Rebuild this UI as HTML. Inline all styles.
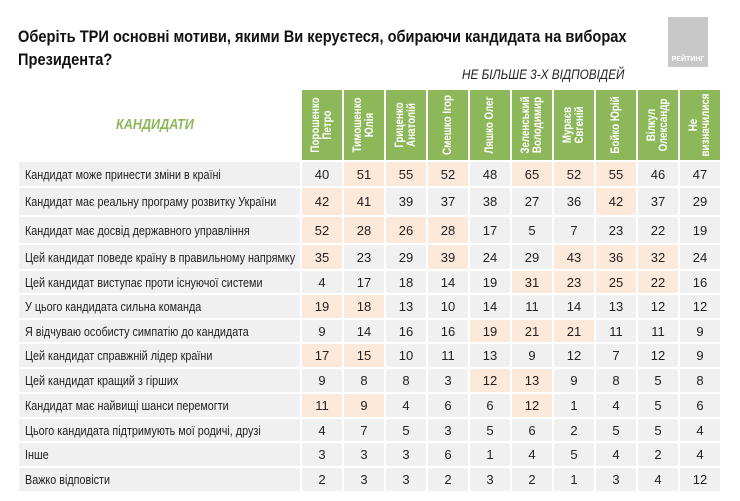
<!DOCTYPE html>
<html><head><meta charset="utf-8"><style>
body{margin:0;width:740px;height:501px;background:#fff;position:relative;overflow:hidden;font-family:"Liberation Sans",sans-serif;color:#222}
.title{position:absolute;left:18px;top:25px;font-size:17px;font-weight:bold;line-height:23px;color:#111;white-space:nowrap;transform:scaleX(0.86);transform-origin:0 0}
.logo{position:absolute;left:668px;top:17px;width:40px;height:50px;background:#c8c8c8}
.logo span{position:absolute;bottom:4px;left:0;width:40px;text-align:center;color:#fff;font-size:7px;font-weight:bold}
.note{position:absolute;left:462px;top:66px;font-size:14px;font-style:italic;color:#222;white-space:nowrap;transform:scaleX(0.84);transform-origin:0 0}
.cand{position:absolute;left:116px;top:116px;font-size:15px;font-style:italic;font-weight:bold;color:#8db85a;transform:scaleX(0.84);transform-origin:0 0}
table{position:absolute;left:17px;top:88px;width:703px;border-collapse:collapse;table-layout:fixed}
td{border:2px solid #fff;padding:0;font-size:13px;background:#f0f0f0;text-align:center}
td.l{text-align:left;padding-left:6px;white-space:nowrap;overflow:visible}
td.l span{display:inline-block;transform:scaleX(0.83);transform-origin:0 50%}
td.p{background:#fde9d9}
tr.h td{background:#8db85a;height:70px;color:#fff;font-weight:bold;font-size:11.5px;line-height:12px;position:relative}
tr.h td.e{background:transparent}
tr.h td div{position:absolute;left:50%;top:50%;transform:translate(-50%,-50%) rotate(-90deg) scaleX(0.85);white-space:nowrap;text-align:center}
</style></head><body>
<div class="title">Оберіть ТРИ основні мотиви, якими Ви керуєтеся, обираючи кандидата на виборах<br>Президента?</div>
<div class="logo"><span>РЕЙТИНГ</span></div>
<div class="note">НЕ БІЛЬШЕ 3-Х ВІДПОВІДЕЙ</div>
<div class="cand">КАНДИДАТИ</div>
<table>
<colgroup><col style="width:283px"><col style="width:42px"><col style="width:42px"><col style="width:42px"><col style="width:42px"><col style="width:42px"><col style="width:42px"><col style="width:42px"><col style="width:42px"><col style="width:42px"><col style="width:42px"></colgroup>
<tr class="h"><td class="e"></td><td><div>Порошенко<br>Петро</div></td><td><div>Тимошенко<br>Юлія</div></td><td><div>Гриценко<br>Анатолій</div></td><td><div>Смешко Ігор</div></td><td><div>Ляшко Олег</div></td><td><div>Зеленський<br>Володимир</div></td><td><div>Мураєв<br>Євгеній</div></td><td><div>Бойко Юрій</div></td><td><div>Вілкул<br>Олександр</div></td><td><div>Не<br>визначилися</div></td></tr>
<tr style="height:26px"><td class="l"><span>Кандидат може принести зміни в країні</span></td><td>40</td><td class="p">51</td><td class="p">55</td><td class="p">52</td><td>48</td><td class="p">65</td><td class="p">52</td><td class="p">55</td><td>46</td><td>47</td></tr>
<tr style="height:29px"><td class="l"><span>Кандидат має реальну програму розвитку України</span></td><td class="p">42</td><td class="p">41</td><td>39</td><td>37</td><td>38</td><td>27</td><td>36</td><td class="p">42</td><td>37</td><td>29</td></tr>
<tr style="height:28px"><td class="l"><span>Кандидат має досвід державного управління</span></td><td class="p">52</td><td class="p">28</td><td class="p">26</td><td class="p">28</td><td>17</td><td>5</td><td>7</td><td>23</td><td>22</td><td>19</td></tr>
<tr style="height:26px"><td class="l"><span>Цей кандидат поведе країну в правильному напрямку</span></td><td class="p">35</td><td>23</td><td>29</td><td class="p">39</td><td>24</td><td>29</td><td class="p">43</td><td class="p">36</td><td class="p">32</td><td>24</td></tr>
<tr style="height:24px"><td class="l"><span>Цей кандидат виступає проти існуючої системи</span></td><td>4</td><td>17</td><td>18</td><td>14</td><td>19</td><td class="p">31</td><td class="p">23</td><td class="p">25</td><td class="p">22</td><td>16</td></tr>
<tr style="height:25px"><td class="l"><span>У цього кандидата сильна команда</span></td><td class="p">19</td><td class="p">18</td><td>13</td><td>10</td><td>14</td><td>11</td><td>14</td><td>13</td><td>12</td><td>12</td></tr>
<tr style="height:24px"><td class="l"><span>Я відчуваю особисту симпатію до кандидата</span></td><td>9</td><td>14</td><td>16</td><td>16</td><td class="p">19</td><td class="p">21</td><td class="p">21</td><td>11</td><td>11</td><td>9</td></tr>
<tr style="height:25px"><td class="l"><span>Цей кандидат справжній лідер країни</span></td><td class="p">17</td><td class="p">15</td><td>10</td><td>11</td><td>13</td><td>9</td><td>12</td><td>7</td><td>12</td><td>9</td></tr>
<tr style="height:25px"><td class="l"><span>Цей кандидат кращий з гірших</span></td><td>9</td><td>8</td><td>8</td><td>3</td><td class="p">12</td><td class="p">13</td><td>9</td><td>8</td><td>5</td><td>8</td></tr>
<tr style="height:25px"><td class="l"><span>Кандидат має найвищі шанси перемогти</span></td><td class="p">11</td><td class="p">9</td><td>4</td><td>6</td><td>6</td><td class="p">12</td><td>1</td><td>4</td><td>5</td><td>6</td></tr>
<tr style="height:24px"><td class="l"><span>Цього кандидата підтримують мої родичі, друзі</span></td><td>4</td><td>7</td><td>5</td><td>3</td><td>5</td><td>6</td><td>2</td><td>5</td><td>5</td><td>4</td></tr>
<tr style="height:25px"><td class="l"><span>Інше</span></td><td>3</td><td>3</td><td>3</td><td>6</td><td>1</td><td>4</td><td>5</td><td>4</td><td>2</td><td>4</td></tr>
<tr style="height:25px"><td class="l"><span>Важко відповісти</span></td><td>2</td><td>3</td><td>3</td><td>2</td><td>3</td><td>2</td><td>1</td><td>3</td><td>4</td><td>12</td></tr>
</table>
</body></html>
